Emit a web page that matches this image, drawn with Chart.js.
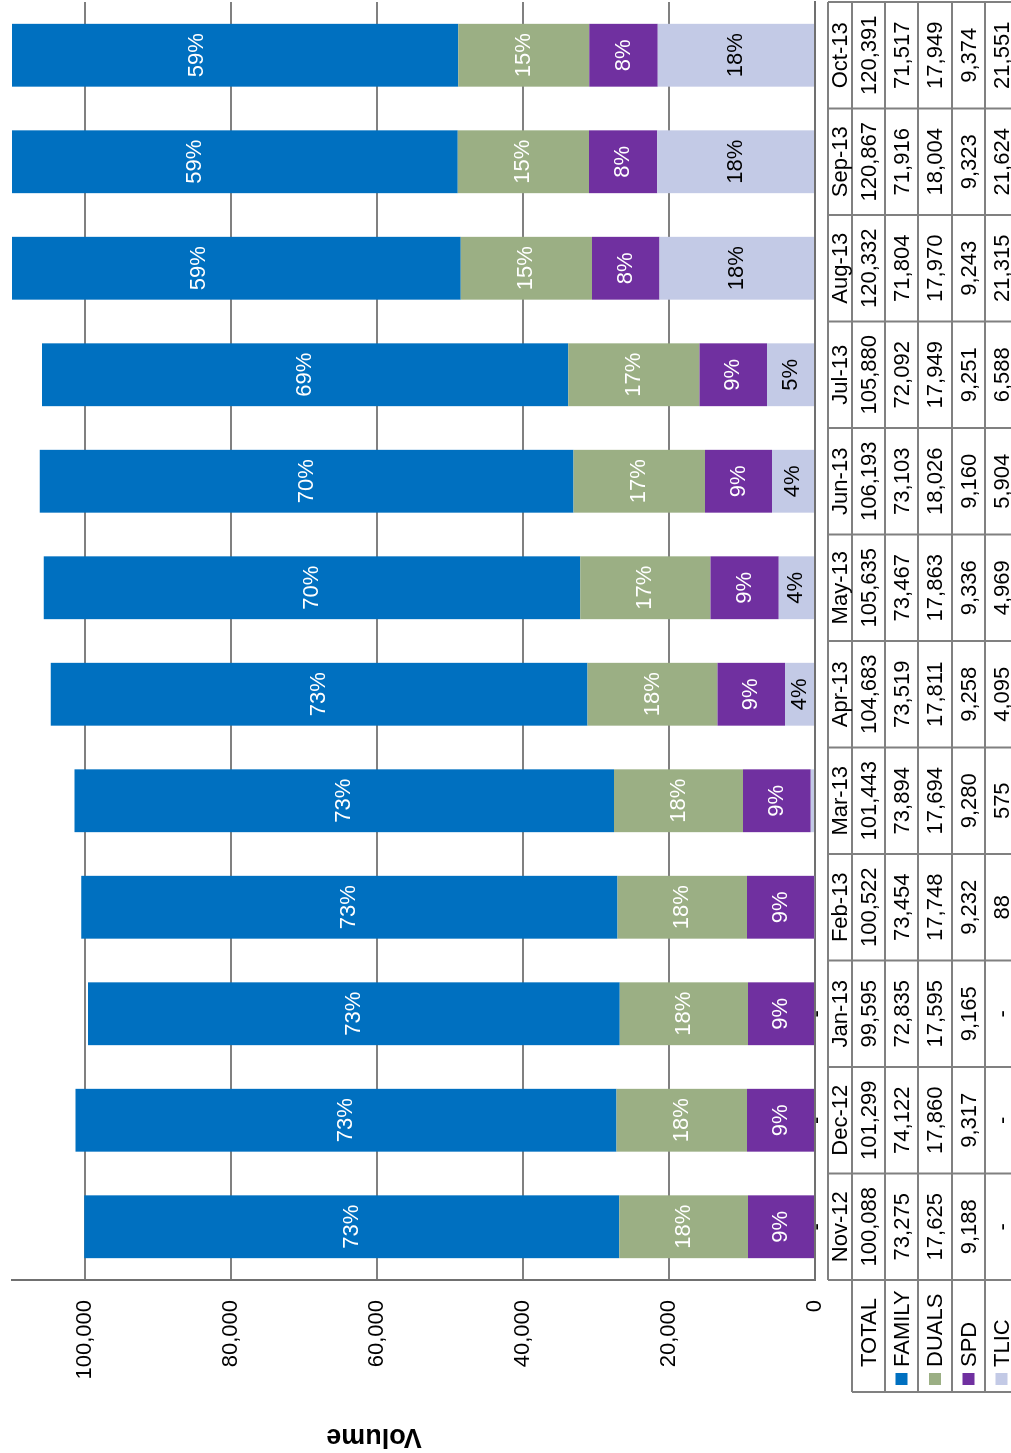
<!DOCTYPE html>
<html>
<head>
<meta charset="utf-8">
<script src="https://cdn.jsdelivr.net/npm/chart.js@4.4.1/dist/chart.umd.min.js"></script>
<style>
  html, body { margin:0; padding:0; background:#ffffff; }
  body { width:1011px; height:1453px; overflow:hidden; position:relative; }
  #wrap { position:absolute; left:0; top:1453px; width:1453px; height:1011px;
          transform-origin:0 0; transform:rotate(-90deg); background:#ffffff; }
  canvas { display:block; }
</style>
</head>
<body>
<div id="wrap"><canvas id="c" width="1453" height="1011"></canvas></div>
<script>
const categories = ['Nov-12','Dec-12','Jan-13','Feb-13','Mar-13','Apr-13','May-13','Jun-13','Jul-13','Aug-13','Sep-13','Oct-13'];
const totals = [100088,101299,99595,100522,101443,104683,105635,106193,105880,120332,120867,120391];
const family = [73275,74122,72835,73454,73894,73519,73467,73103,72092,71804,71916,71517];
const duals  = [17625,17860,17595,17748,17694,17811,17863,18026,17949,17970,18004,17949];
const spd    = [9188,9317,9165,9232,9280,9258,9336,9160,9251,9243,9323,9374];
const tlic   = [0,0,0,88,575,4095,4969,5904,6588,21315,21624,21551];

const familyPct = ['73%','73%','73%','73%','73%','73%','70%','70%','69%','59%','59%','59%'];
const dualsPct  = ['18%','18%','18%','18%','18%','18%','17%','17%','17%','15%','15%','15%'];
const spdPct    = ['9%','9%','9%','9%','9%','9%','9%','9%','9%','8%','8%','8%'];
const tlicPct   = ['-','-','-',null,null,'4%','4%','4%','5%','18%','18%','18%'];

const yTickValues = [0, 20000, 40000, 60000, 80000, 100000];
const yAxisMax = 110000;

const FONT = '"Liberation Sans", Arial, Helvetica, sans-serif';
Chart.defaults.font.family = FONT;

const colors = { FAMILY:'#0070C0', DUALS:'#9BAF84', SPD:'#7030A0', TLIC:'#C3CAE6' };

const fmt = v => v === 0 ? '-' : v.toLocaleString('en-US');

const tableRows = [
  { name:'TOTAL', values: totals, color: null },
  { name:'FAMILY', values: family, color: colors.FAMILY },
  { name:'DUALS', values: duals, color: colors.DUALS },
  { name:'SPD', values: spd, color: colors.SPD },
  { name:'TLIC', values: tlic, color: colors.TLIC }
];

const bgPlugin = {
  id:'bg',
  beforeDraw(chart){
    const ctx = chart.ctx; ctx.save(); ctx.fillStyle = '#ffffff';
    ctx.fillRect(0,0,chart.width,chart.height); ctx.restore();
  }
};

const labelPlugin = {
  id:'segLabels',
  afterDatasetsDraw(chart){
    const ctx = chart.ctx;
    ctx.save();
    ctx.font = '22px ' + FONT;
    ctx.textAlign = 'center';
    ctx.textBaseline = 'middle';
    chart.data.datasets.forEach((ds, i) => {
      const meta = chart.getDatasetMeta(i);
      meta.data.forEach((bar, j) => {
        const t = ds.segLabels[j];
        if (!t) return;
        const cy = (bar.y + bar.base) / 2;
        ctx.fillStyle = (t === '-') ? '#000000' : ds.segLabelColor;
        ctx.fillText(t, bar.x, t === '-' ? cy + 2 : cy);
      });
    });
    ctx.restore();
  }
};

const tablePlugin = {
  id:'dataTable',
  afterDraw(chart){
    const ctx = chart.ctx;
    const xs = chart.scales.x;
    const area = chart.chartArea;
    const n = categories.length;
    const cw = (area.right - area.left) / n;
    const top = area.bottom + 13;
    const rowEdges = [top, top + 24, top + 57, top + 90, top + 124, top + 157, top + 190];
    const headLeft = 61;
    ctx.save();
    ctx.strokeStyle = '#808080';
    ctx.lineWidth = 2;
    ctx.beginPath();
    ctx.moveTo(area.left, rowEdges[0]); ctx.lineTo(area.right, rowEdges[0]);
    for (let r = 1; r < rowEdges.length; r++) {
      ctx.moveTo(headLeft, rowEdges[r]); ctx.lineTo(area.right, rowEdges[r]);
    }
    for (let c = 0; c <= n; c++) {
      const x = area.left + c * cw;
      ctx.moveTo(x, rowEdges[0]); ctx.lineTo(x, rowEdges[rowEdges.length - 1]);
    }
    ctx.moveTo(headLeft, rowEdges[1]); ctx.lineTo(headLeft, rowEdges[rowEdges.length - 1]);
    ctx.stroke();

    ctx.fillStyle = '#000000';
    ctx.font = '22px ' + FONT;
    ctx.textBaseline = 'middle';
    ctx.textAlign = 'center';
    categories.forEach((c, j) => {
      ctx.fillText(c, xs.getPixelForValue(j), (rowEdges[0] + rowEdges[1]) / 2 + 1);
    });
    tableRows.forEach((row, r) => {
      const y = (rowEdges[r + 1] + rowEdges[r + 2]) / 2 + 1;
      ctx.textAlign = 'center';
      ctx.fillStyle = '#000000';
      row.values.forEach((v, j) => {
        ctx.fillText(fmt(v), xs.getPixelForValue(j), y);
      });
      ctx.textAlign = 'left';
      ctx.fillText(row.name, 86, y);
      if (row.color) {
        ctx.fillStyle = row.color;
        ctx.fillRect(68, y - 7, 12, 12);
      }
    });

    ctx.fillStyle = '#000000';
    ctx.font = 'bold 27px ' + FONT;
    ctx.textAlign = 'center';
    ctx.textBaseline = 'middle';
    ctx.translate(17, 374);
    ctx.rotate(-Math.PI / 2);
    ctx.fillText('Volume', 0, 0);
    ctx.restore();
  }
};

const datasets = [
  { label:'TLIC', data: tlic, backgroundColor: colors.TLIC, segLabels: tlicPct, segLabelColor:'#000000' },
  { label:'SPD', data: spd, backgroundColor: colors.SPD, segLabels: spdPct, segLabelColor:'#ffffff' },
  { label:'DUALS', data: duals, backgroundColor: colors.DUALS, segLabels: dualsPct, segLabelColor:'#ffffff' },
  { label:'FAMILY', data: family, backgroundColor: colors.FAMILY, segLabels: familyPct, segLabelColor:'#ffffff' }
];
datasets.forEach(d => { d.barPercentage = 0.59; d.categoryPercentage = 1.0; d.borderWidth = 0; });

new Chart(document.getElementById('c'), {
  type:'bar',
  data:{ labels: categories, datasets },
  options:{
    responsive:false,
    animation:false,
    devicePixelRatio:1,
    layout:{ padding:{ left:0, right:2, top:12, bottom:0 } },
    plugins:{ legend:{ display:false }, tooltip:{ enabled:false }, title:{ display:false } },
    scales:{
      x:{
        stacked:true,
        grid:{ display:false, drawTicks:false },
        border:{ display:true, color:'#707070', width:2 },
        ticks:{ display:false },
        afterFit(scale){ scale.height = 196; scale.paddingLeft = 0; scale.paddingRight = 0; }
      },
      y:{
        stacked:true,
        min:0, max:yAxisMax,
        grid:{ color:'#808080', lineWidth:2, drawTicks:false },
        border:{ display:true, color:'#707070', width:2 },
        ticks:{
          padding:20, color:'#000000',
          font:{ size:22, family:FONT },
          callback: v => v.toLocaleString('en-US')
        },
        afterBuildTicks(scale){ scale.ticks = yTickValues.map(v => ({ value: v })); },
        afterFit(scale){ scale.width = 173; scale.paddingTop = 0; scale.paddingBottom = 0; }
      }
    }
  },
  plugins:[bgPlugin, labelPlugin, tablePlugin]
});
</script>
</body>
</html>
